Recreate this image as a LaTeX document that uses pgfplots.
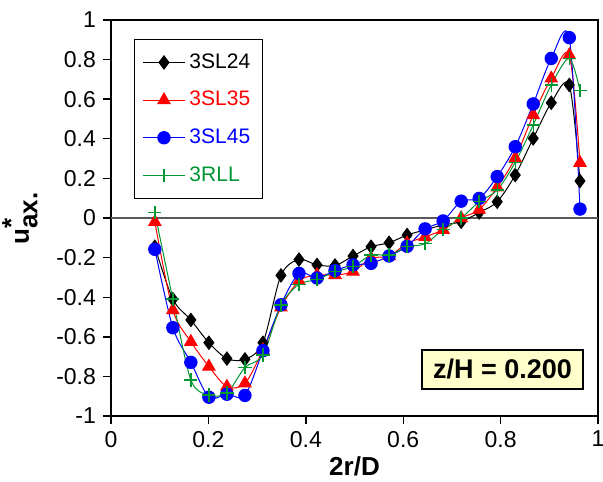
\documentclass[border=0pt]{standalone}
\usepackage{pgfplots}
\pgfplotsset{compat=1.18}
\usepackage{fontspec}
\setmainfont{Liberation Sans}
\definecolor{sgreen}{RGB}{0,150,50}
\definecolor{boxyellow}{HTML}{FFFFCC}

\begin{document}
\begin{tikzpicture}
\begin{axis}[
  name=ax,
  scale only axis,
  width=243.5pt, height=198pt,
  xmin=0, xmax=1, ymin=-1, ymax=1,
  xtick={0,0.2,0.4,0.6,0.8,1},
  ytick={-1,-0.8,-0.6,-0.4,-0.2,0,0.2,0.4,0.6,0.8,1},
  xtick pos=left, ytick pos=left,
  tick align=outside,
  major tick length=4pt,
  axis line style={line width=0.9pt},
  every tick/.style={black, line width=0.7pt},
  /pgf/number format/assume math mode=true,
  tick label style={font=\fontsize{11.5}{13}\selectfont},
  extra y ticks={0}, extra y tick labels={},
  extra y tick style={grid=major, major tick length=0pt,
    major grid style={black!65, line width=0.6pt}},
  xlabel={\textbf{2r/D}},
  xlabel style={at={(axis description cs:0.5,-0.127)}, anchor=center,
    font=\fontsize{13}{15}\selectfont},
  ylabel={\textbf{u}$^{\textbf{*}}_{\textbf{ax.}}$},
  ylabel style={at={(axis description cs:-0.187,0.5)}, anchor=center,
    font=\fontsize{13}{15}\selectfont},
  legend style={at={(rel axis cs:0.047,0.952)}, anchor=north west,
    draw=black, line width=0.6pt, inner xsep=4pt, inner ysep=5pt,
    row sep=6pt, font=\fontsize{10.5}{12}\selectfont},
  legend cell align=left,
  legend image code/.code={
    \draw[mark repeat=2, mark phase=2, line width=0.5pt, #1]
      plot coordinates {(0pt,0pt) (10.5pt,0pt) (21pt,0pt)};
  },
  every axis plot/.append style={smooth, tension=0.5, line width=0.5pt},
]
\addplot[black, mark=diamond*, mark size=3.3pt, mark options={fill=black}] coordinates {
(0.090,-0.145)(0.127,-0.41)(0.164,-0.515)(0.201,-0.63)(0.238,-0.71)(0.275,-0.714)
(0.312,-0.63)(0.349,-0.29)(0.386,-0.21)(0.423,-0.237)(0.460,-0.24)(0.497,-0.192)
(0.534,-0.145)(0.571,-0.125)(0.608,-0.086)(0.645,-0.06)(0.682,-0.035)(0.719,-0.019)
(0.756,0.028)(0.793,0.082)(0.830,0.217)(0.867,0.402)(0.904,0.582)(0.941,0.672)(0.963,0.187)};
\addlegendentry{\textcolor{black}{3SL24}}
\addplot[red, mark=triangle*, mark size=3.5pt, mark options={fill=red}] coordinates {
(0.090,-0.02)(0.127,-0.465)(0.164,-0.625)(0.201,-0.75)(0.238,-0.852)(0.275,-0.835)
(0.312,-0.667)(0.349,-0.452)(0.386,-0.318)(0.423,-0.288)(0.460,-0.288)(0.497,-0.271)
(0.534,-0.204)(0.571,-0.192)(0.608,-0.128)(0.645,-0.095)(0.682,-0.06)(0.719,0.0)
(0.756,0.042)(0.793,0.155)(0.830,0.302)(0.867,0.52)(0.904,0.705)(0.941,0.823)(0.963,0.279)};
\addlegendentry{\textcolor{red}{3SL35}}
\addplot[blue, mark=*, mark size=3.1pt, mark options={fill=blue}] coordinates {
(0.090,-0.158)(0.127,-0.554)(0.164,-0.729)(0.201,-0.905)(0.238,-0.89)(0.275,-0.896)
(0.312,-0.67)(0.349,-0.438)(0.386,-0.28)(0.423,-0.303)(0.460,-0.265)(0.497,-0.237)
(0.534,-0.229)(0.571,-0.192)(0.608,-0.143)(0.645,-0.055)(0.682,-0.015)(0.719,0.085)
(0.756,0.099)(0.793,0.209)(0.830,0.36)(0.867,0.576)(0.904,0.806)(0.941,0.911)(0.963,0.045)};
\addlegendentry{\textcolor{blue}{3SL45}}
\addplot[sgreen, mark=+, mark size=3.3pt, mark options={line width=0.7pt}] coordinates {
(0.090,0.027)(0.127,-0.41)(0.164,-0.818)(0.201,-0.894)(0.238,-0.884)(0.275,-0.755)
(0.312,-0.692)(0.349,-0.44)(0.386,-0.335)(0.423,-0.311)(0.460,-0.271)(0.497,-0.246)
(0.534,-0.187)(0.571,-0.187)(0.608,-0.145)(0.645,-0.13)(0.682,-0.058)(0.719,0.0)
(0.756,0.082)(0.793,0.141)(0.830,0.281)(0.867,0.47)(0.904,0.672)(0.941,0.806)(0.963,0.643)};
\addlegendentry{\textcolor{sgreen}{3RLL}}
\node[draw=black, line width=0.6pt, fill=boxyellow, minimum width=80.5pt,
  minimum height=19.5pt, inner sep=0pt, font=\fontsize{13.5}{15}\selectfont\bfseries]
  at (axis cs:0.804,-0.765) {z/H = 0.200};
\end{axis}
\pgfresetboundingbox
\path[use as bounding box] ([shift={(-55.5pt,-32.5pt)}]ax.south west)
  rectangle ([shift={(2.5pt,10pt)}]ax.north east);
\end{tikzpicture}
\end{document}
